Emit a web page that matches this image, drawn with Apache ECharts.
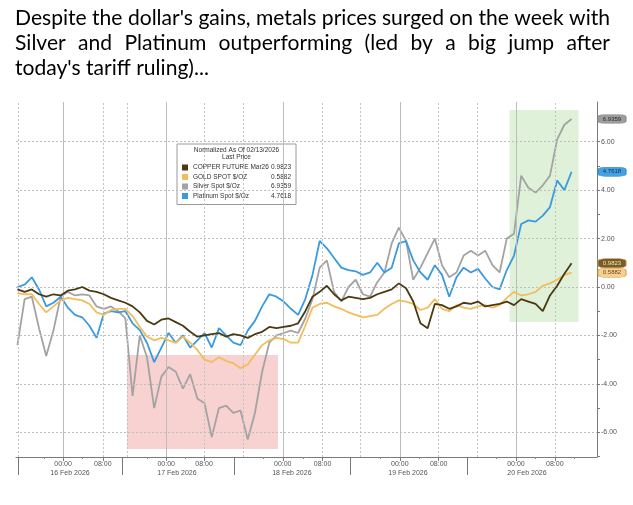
<!DOCTYPE html>
<html>
<head>
<meta charset="utf-8">
<script src="https://cdn.jsdelivr.net/npm/echarts@6/dist/echarts.min.js"></script>
<style>
html, body { margin: 0; padding: 0; background: #fff; }
#chart { width: 633px; height: 505px; }
</style>
</head>
<body>
<div id="chart"></div>
<script>
// headline above the chart (line 2 is justified like the source)
var titleLines = [
  "Despite the dollar's gains, metals prices surged on the week with",
  "Silver and Platinum outperforming (led by a big jump after",
  "today's tariff ruling)..."
];

// x is in hours from 16 Feb 2026 00:00, samples every 1.5h
var startHour = -9.5;
var stepHour = 1.5;
var xMin = -9.8, xMax = 111.3;

// normalized price change
var copper = [
  -0.1, -0.2, -0.1, -0.3, -0.4, -0.3, -0.35, -0.15, -0.1, 0.0,
  -0.15, -0.2, -0.3, -0.45, -0.55, -0.65, -0.8, -1.05, -1.4, -1.55,
  -1.35, -1.3, -1.45, -1.6, -1.85, -2.05, -2.0, -1.95, -1.9, -2.05,
  -1.95, -2.0, -2.1, -1.95, -1.85, -1.65, -1.7, -1.65, -1.6, -1.5,
  -1.0, -0.4, -0.2, 0.05, -0.3, -0.55, -0.4, -0.45, -0.5, -0.45,
  -0.3, -0.2, -0.1, 0.15, -0.05, -0.6, -1.5, -1.7, -0.7, -0.75,
  -0.9, -0.8, -0.65, -0.7, -0.6, -0.8, -0.75, -0.7, -0.6, -0.75,
  -0.5, -0.6, -0.7, -1.0, -0.35, 0.05, 0.55, 0.98
];
var gold = [
  -0.25, -0.3, -0.3, -0.7, -1.05, -0.8, -0.55, -0.45, -0.5, -0.55,
  -0.7, -1.05, -1.15, -0.95, -0.9, -0.9, -1.2, -1.65, -2.05, -2.2,
  -2.1, -2.2, -2.3, -2.05, -2.3, -2.6, -3.0, -3.1, -2.9, -3.05,
  -3.15, -3.35, -3.2, -2.8, -2.4, -2.2, -2.1, -2.15, -2.3, -2.3,
  -1.6, -0.85, -0.7, -0.65, -0.8, -0.9, -1.05, -1.15, -1.25, -1.2,
  -1.15, -0.9, -0.7, -0.55, -0.6, -0.7, -0.95, -0.85, -0.5, -0.9,
  -1.0, -0.75, -0.85, -0.9, -0.8, -0.75, -0.85, -0.75, -0.45, -0.2,
  -0.35, -0.3, -0.2, 0.05, 0.15, 0.3, 0.5, 0.59
];
var silver = [
  -2.4, -0.5, -0.4, -1.7, -2.85, -1.8, -0.4, -0.2, -0.35, -0.3,
  -0.35, -0.8, -0.9, -0.8, -1.0, -1.3, -4.5, -2.0, -2.9, -5.0,
  -3.7, -3.3, -3.5, -4.2, -3.6, -4.6, -4.8, -6.2, -5.0, -4.9,
  -5.2, -5.1, -6.3, -5.2, -3.5, -2.3, -2.0, -1.9, -1.8, -1.9,
  -1.3, -0.5, 0.8, 1.1, -0.2, -0.6, 0.0, 0.3, -0.3, -0.4,
  0.2, 0.6, 1.8, 2.45, 1.9, 0.3, 0.8, 1.4, 2.0, 0.9,
  0.4, 0.6, 1.3, 1.5, 1.3, 1.5, 0.9, 0.6, 2.0, 2.2,
  4.6, 4.1, 3.9, 4.2, 4.6, 6.1, 6.7, 6.94
];
var platinum = [
  0.0, 0.1, 0.4, -0.1, -0.8, -0.65, -0.4, -0.85, -1.15, -1.25,
  -1.6, -2.1, -1.1, -1.0, -1.05, -1.0, -1.5, -1.78, -2.3, -3.1,
  -2.5, -1.9, -2.3, -2.0, -2.5, -2.2, -1.9, -2.5, -1.7, -2.0,
  -2.3, -2.4, -1.8, -1.4, -0.8, -0.3, -0.4, -0.6, -0.9, -1.15,
  -0.5, 0.5, 1.9, 1.6, 1.2, 0.8, 0.7, 0.65, 0.5, 0.6,
  1.0, 0.6, 0.8, 1.8, 1.9, 1.1, 0.6, 0.3, 0.9, 0.5,
  -0.4, 0.4, 0.8, 0.6, 0.75, 0.35, 0.0, -0.1, 0.7, 1.3,
  2.6, 2.75, 2.7, 2.95, 3.3, 4.4, 4.0, 4.76
];

var seriesNames = ['COPPER FUTURE Mar26', 'GOLD SPOT $/OZ', 'Silver Spot $/Oz', 'Platinum Spot $/Oz'];
var lastPrices = ['0.9823', '0.5882', '6.9359', '4.7618'];
var lineColors = ['#4b3912', '#f2bd5c', '#a3a3a3', '#3b9ade'];

// x axis ticks and labels
var midnightTicks = [0, 21.5, 45.8, 70.2, 94.4];
var eightTicks = [8.3, 29.4, 54.1, 78.3, 102.5];
var sessionLines = [-9.3, 13.3, 37.5, 61.9, 86.3];
var dayBounds = [-9.4, 12.3, 35.6, 59.8, 84.2];
var smallTicks = [-4, 4, 17.5, 25.4, 41.8, 50, 66.2, 74.2, 90.4, 98.5, 106.5];
var dateTicks = [1.46, 23.75, 47.7, 71.9, 96.7];
var dateLabels = ['16 Feb 2026', '17 Feb 2026', '18 Feb 2026', '19 Feb 2026', '20 Feb 2026'];

// y axis
var yMin = -7.02, yMax = 7.64;
var yLabelValues = [-6, -4, -2, 0, 2, 4, 6];
var yTickValues = [-7, -6, -5, -4, -3, -2, -1, 0, 1, 2, 3, 4, 5, 6, 7];

// highlighted boxes
var redBox = [[13.3, -2.81], [44.8, -6.69]];
var greenBox = [[93.1, 7.31], [107.5, -1.45]];

var axisFont = 'Liberation Sans';
var chart = echarts.init(document.getElementById('chart'));

function toPairs(arr) {
  return arr.map(function (v, i) { return [startHour + i * stepHour, v]; });
}

// title layout: fit line 1 to the width, justify line 2
var textLeft = 15, textWidth = 595;
var ctx = document.createElement('canvas').getContext('2d');
var titleFamily = 'Lato';
ctx.font = '18px ' + titleFamily;
var fs = 18 * textWidth / ctx.measureText(titleLines[0]).width;
var titleFont = fs.toFixed(2) + 'px ' + titleFamily;
ctx.font = titleFont;
var baselines = [25, 50, 75];
var graphics = [];
titleLines.forEach(function (line, li) {
  var y = baselines[li] - 0.3 * fs;
  if (li === 1) {
    var words = line.split(' ');
    var sum = 0;
    words.forEach(function (w) { sum += ctx.measureText(w).width; });
    var gap = (textWidth - sum) / (words.length - 1);
    var x = textLeft;
    words.forEach(function (w) {
      graphics.push({ type: 'text', x: x, y: y, z: 100,
        style: { text: w, font: titleFont, fill: '#000', verticalAlign: 'middle' } });
      x += ctx.measureText(w).width + gap;
    });
  } else {
    graphics.push({ type: 'text', x: textLeft, y: y, z: 100,
      style: { text: line, font: titleFont, fill: '#000', verticalAlign: 'middle' } });
  }
});
// legend header
graphics.push({ type: 'text', x: 236.5, y: 150, z: 100,
  style: { text: 'Normalized As Of 02/13/2026', font: '6.5px ' + axisFont, fill: '#333', align: 'center', verticalAlign: 'middle' } });
graphics.push({ type: 'text', x: 236.5, y: 157.5, z: 100,
  style: { text: 'Last Price', font: '6.5px ' + axisFont, fill: '#333', align: 'center', verticalAlign: 'middle' } });

var gridMarks = [];
midnightTicks.forEach(function (v) {
  gridMarks.push({ xAxis: v, lineStyle: { color: '#bdbdbd', type: 'solid', width: 1 } });
});
eightTicks.concat(sessionLines).forEach(function (v) {
  gridMarks.push({ xAxis: v, lineStyle: { color: '#c4c4c4', type: [2, 2], width: 1 } });
});
yLabelValues.forEach(function (v) {
  gridMarks.push({ yAxis: v, lineStyle: { color: '#bdbdbd', type: [2, 2], width: 1 } });
});

var tagStyles = [
  { fill: '#7a5a25', border: '#c08a40', text: '#f3e2b0' },
  { fill: '#f6cf94', border: '#d89a40', text: '#6a4a10' },
  { fill: '#9d9d9d', border: '#888', text: '#2a2a2a' },
  { fill: '#45a0e4', border: '#2f86c8', text: '#13314d' }
];
var seriesData = [copper, gold, silver, platinum];
var drawOrder = [2, 3, 1, 0];

var series = [{
  name: 'bg', type: 'line', data: [], silent: true, z: 1,
  markArea: {
    silent: true,
    data: [
      [{ coord: redBox[0], itemStyle: { color: 'rgba(232,112,112,0.32)' } }, { coord: redBox[1] }],
      [{ coord: greenBox[0], itemStyle: { color: 'rgba(150,210,130,0.3)' } }, { coord: greenBox[1] }]
    ]
  },
  markLine: { silent: true, symbol: 'none', label: { show: false }, animation: false, data: gridMarks }
}];
drawOrder.forEach(function (k, n) {
  var arr = seriesData[k];
  series.push({
    name: seriesNames[k],
    type: 'line',
    data: toPairs(arr),
    showSymbol: false,
    z: 3 + n,
    color: lineColors[k],
    lineStyle: { width: 1.8, color: lineColors[k] },
    animation: false,
    markPoint: {
      silent: true,
      symbol: 'roundRect',
      symbolSize: [28, 9],
      symbolOffset: [15, 0],
      itemStyle: { color: tagStyles[k].fill, borderColor: tagStyles[k].border, borderWidth: 0.6 },
      label: { show: true, formatter: lastPrices[k], fontSize: 6, fontFamily: axisFont, color: tagStyles[k].text },
      data: [{ coord: [xMax, arr[arr.length - 1]] }]
    }
  });
});

var timeTicks = midnightTicks.concat(eightTicks);
function timeLabel(v) {
  return midnightTicks.indexOf(v) >= 0 ? '00:00' : '08:00';
}

chart.setOption({
  animation: false,
  backgroundColor: '#fff',
  graphic: graphics,
  grid: { left: 16, right: 36, top: 102, bottom: 48 },
  legend: {
    data: seriesNames,
    orient: 'vertical',
    left: 177, top: 144,
    padding: [20, 5, 5, 5],
    itemWidth: 6, itemHeight: 6, itemGap: 2.5,
    icon: 'rect',
    backgroundColor: '#fff',
    borderColor: '#9a9a9a', borderWidth: 1,
    selectedMode: false,
    textStyle: {
      fontSize: 6.5, color: '#333', fontFamily: axisFont,
      rich: {
        n: { width: 76, fontSize: 6.5, fontFamily: axisFont, color: '#333' },
        v: { width: 22, align: 'right', fontSize: 6.5, fontFamily: axisFont, color: '#333' }
      }
    },
    formatter: function (name) {
      return '{n|' + name + '}{v|' + lastPrices[seriesNames.indexOf(name)] + '}';
    }
  },
  xAxis: [{
    type: 'value', min: xMin, max: xMax, position: 'bottom',
    splitLine: { show: false },
    axisLine: { onZero: false, lineStyle: { color: '#7a7a7a' } },
    axisTick: { customValues: timeTicks, length: 4, lineStyle: { color: '#7a7a7a' } },
    axisLabel: { customValues: timeTicks, formatter: timeLabel, fontSize: 7, color: '#555', fontFamily: axisFont, margin: 4 }
  }, {
    type: 'value', min: xMin, max: xMax, position: 'bottom',
    splitLine: { show: false },
    axisLine: { show: false, onZero: false },
    axisTick: { show: false },
    axisLabel: {
      customValues: dateTicks, fontSize: 7, color: '#555', fontFamily: axisFont, margin: 13,
      formatter: function (v) { return dateLabels[dateTicks.indexOf(v)]; }
    }
  }, {
    type: 'value', min: xMin, max: xMax, position: 'bottom',
    splitLine: { show: false },
    axisLine: { show: false, onZero: false },
    axisTick: { customValues: dayBounds, length: 18, lineStyle: { color: '#777' } },
    axisLabel: { show: false }
  }, {
    type: 'value', min: xMin, max: xMax, position: 'bottom',
    splitLine: { show: false },
    axisLine: { show: false, onZero: false },
    axisTick: { customValues: smallTicks, length: 2, lineStyle: { color: '#888' } },
    axisLabel: { show: false }
  }],
  yAxis: {
    type: 'value', min: yMin, max: yMax, position: 'right',
    splitLine: { show: false },
    axisLine: { show: true, onZero: false, lineStyle: { color: '#7a7a7a' } },
    axisTick: { show: true, customValues: yTickValues, length: 3, lineStyle: { color: '#7a7a7a' } },
    axisLabel: {
      customValues: yLabelValues, fontSize: 7, color: '#555', fontFamily: axisFont, margin: 4,
      formatter: function (v) { return v.toFixed(2); }
    }
  },
  series: series
});
</script>
</body>
</html>
